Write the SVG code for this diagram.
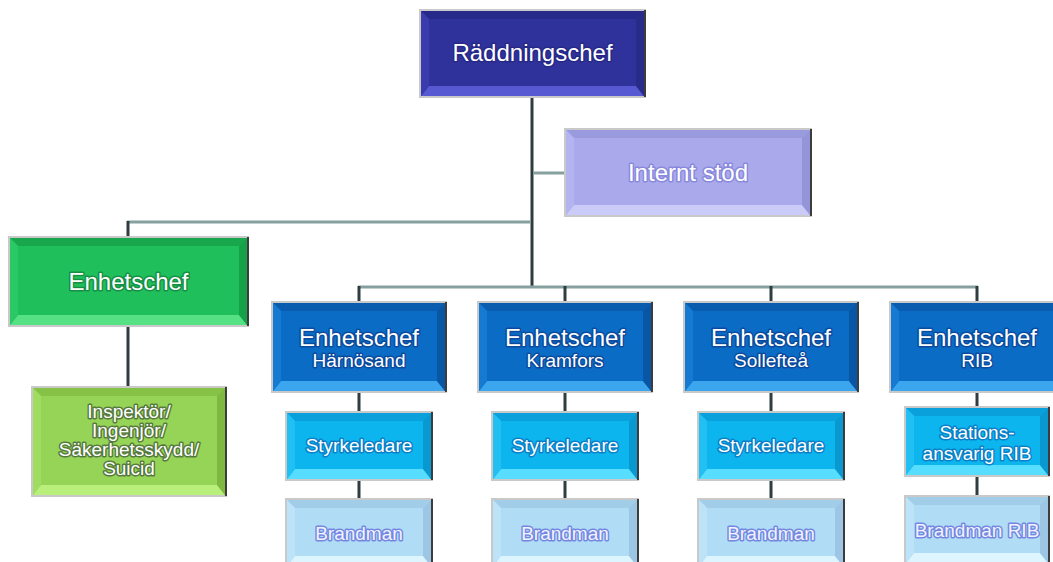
<svg xmlns="http://www.w3.org/2000/svg" width="1053" height="562" viewBox="0 0 1053 562">
<style>
.frame{fill:none;stroke:#c9c9c9;stroke-width:2}
.edge{stroke:#3c3c3c;stroke-width:2}
.v{stroke:#2f3d40;stroke-width:3;fill:none}
.h{stroke:#86a0a0;stroke-width:3;fill:none}
text{font-family:"Liberation Sans",Arial,sans-serif;text-anchor:middle;fill:#ffffff;paint-order:stroke;stroke-linejoin:round;stroke-width:3}
.t24{font-size:24px}
.t19{font-size:19px}
.rad .f{fill:#30329b}.rad .t{fill:#27298a}.rad .b{fill:#5659d2}.rad .l{fill:#3a3cae}.rad .r{fill:#292b88}.rad text{stroke:#20227a;stroke-opacity:.6}
.int .f{fill:#a9a9ec}.int .t{fill:#9a9adf}.int .b{fill:#cbcbfa}.int .l{fill:#b4b4f1}.int .r{fill:#9494d8}.int text{stroke:#8080d8;stroke-opacity:.8}
.grn .f{fill:#1fbf5c}.grn .t{fill:#18a74d}.grn .b{fill:#55e184}.grn .l{fill:#2bc966}.grn .r{fill:#16a04a}.grn text{stroke:#127a3a;stroke-opacity:.7}
.lim .f{fill:#95d456}.lim .t{fill:#85c246}.lim .b{fill:#b9f07c}.lim .l{fill:#a0dc62}.lim .r{fill:#7eb840}.lim text{stroke:#4c6a3a;stroke-opacity:.85}
.blu .f{fill:#0b6cc6}.blu .t{fill:#0a5cae}.blu .b{fill:#3ba6ee}.blu .l{fill:#167ad2}.blu .r{fill:#0956a4}.blu text{stroke:#0a3c8c;stroke-opacity:.7}
.cya .f{fill:#0cb5ed}.cya .t{fill:#0aa0db}.cya .b{fill:#56ddff}.cya .l{fill:#22c0f2}.cya .r{fill:#0998d0}.cya text{stroke:#0a6ab8;stroke-opacity:.7}
.pal .f{fill:#b1dcf5}.pal .t{fill:#a2cde9}.pal .b{fill:#dcf5ff}.pal .l{fill:#bde3f8}.pal .r{fill:#9cc6e4}.pal text{fill:#f2f2ff;stroke:#6a7ddf;stroke-opacity:.9}
</style>

<g id="connectors">
<line class="v" x1="532" y1="96" x2="532" y2="288"/>
<line class="h" x1="533" y1="173" x2="566" y2="173"/>
<line class="h" x1="127" y1="222" x2="531" y2="222"/>
<line class="v" x1="128" y1="221" x2="128" y2="238"/>
<line class="v" x1="128" y1="325" x2="128" y2="388"/>
<line class="h" x1="358" y1="287" x2="978" y2="287"/>
<line class="v" x1="359" y1="286" x2="359" y2="303"/>
<line class="v" x1="565" y1="286" x2="565" y2="303"/>
<line class="v" x1="771" y1="286" x2="771" y2="303"/>
<line class="v" x1="977" y1="286" x2="977" y2="303"/>
<line class="v" x1="359" y1="391" x2="359" y2="413"/>
<line class="v" x1="359" y1="479" x2="359" y2="500"/>
<line class="v" x1="565" y1="391" x2="565" y2="413"/>
<line class="v" x1="565" y1="479" x2="565" y2="500"/>
<line class="v" x1="771" y1="391" x2="771" y2="413"/>
<line class="v" x1="771" y1="479" x2="771" y2="500"/>
<line class="v" x1="977" y1="391" x2="977" y2="408"/>
<line class="v" x1="977" y1="475" x2="977" y2="497"/>
</g>

<g id="raddningschef" class="rad">
<rect class="f" x="421" y="11" width="223" height="85"/>
<polygon class="t" points="421,11 644,11 636,19 429,19"/>
<polygon class="b" points="421,96 644,96 636,86 429,86"/>
<polygon class="l" points="421,11 429,19 429,86 421,96"/>
<polygon class="r" points="644,11 636,19 636,86 644,96"/>
<rect class="frame" x="420" y="10" width="225" height="87"/>
<line class="edge" x1="645" y1="10" x2="645" y2="97"/>
<text class="t24" x="532.5" y="61">Räddningschef</text>
</g>

<g id="internt-stod" class="int">
<rect class="f" x="566" y="130" width="244" height="85"/>
<polygon class="t" points="566,130 810,130 802,138 574,138"/>
<polygon class="b" points="566,215 810,215 802,205 574,205"/>
<polygon class="l" points="566,130 574,138 574,205 566,215"/>
<polygon class="r" points="810,130 802,138 802,205 810,215"/>
<rect class="frame" x="565" y="129" width="246" height="87"/>
<line class="edge" x1="811" y1="129" x2="811" y2="216"/>
<text class="t24" x="688" y="181">Internt stöd</text>
</g>

<g id="enhetschef" class="grn">
<rect class="f" x="10" y="238" width="237" height="87"/>
<polygon class="t" points="10,238 247,238 239,246 18,246"/>
<polygon class="b" points="10,325 247,325 239,315 18,315"/>
<polygon class="l" points="10,238 18,246 18,315 10,325"/>
<polygon class="r" points="247,238 239,246 239,315 247,325"/>
<rect class="frame" x="9" y="237" width="239" height="89"/>
<line class="edge" x1="248" y1="237" x2="248" y2="326"/>
<text class="t24" x="128.5" y="290">Enhetschef</text>
</g>

<g id="inspektor" class="lim">
<rect class="f" x="33" y="388" width="192" height="107"/>
<polygon class="t" points="33,388 225,388 217,396 41,396"/>
<polygon class="b" points="33,495 225,495 217,485 41,485"/>
<polygon class="l" points="33,388 41,396 41,485 33,495"/>
<polygon class="r" points="225,388 217,396 217,485 225,495"/>
<rect class="frame" x="32" y="387" width="194" height="109"/>
<line class="edge" x1="226" y1="387" x2="226" y2="496"/>
<text class="t19" x="129" y="418">Inspektör/</text>
<text class="t19" x="129" y="437">Ingenjör/</text>
<text class="t19" x="129" y="456">Säkerhetsskydd/</text>
<text class="t19" x="129" y="475">Suicid</text>
</g>

<g id="enhetschef-harnosand" class="blu">
<rect class="f" x="273" y="303" width="172" height="88"/>
<polygon class="t" points="273,303 445,303 437,311 281,311"/>
<polygon class="b" points="273,391 445,391 437,381 281,381"/>
<polygon class="l" points="273,303 281,311 281,381 273,391"/>
<polygon class="r" points="445,303 437,311 437,381 445,391"/>
<rect class="frame" x="272" y="302" width="174" height="90"/>
<line class="edge" x1="446" y1="302" x2="446" y2="392"/>
<text class="t24" x="359" y="346">Enhetschef</text>
<text class="t19" x="359" y="367">Härnösand</text>
</g>

<g id="enhetschef-kramfors" class="blu">
<rect class="f" x="479" y="303" width="172" height="88"/>
<polygon class="t" points="479,303 651,303 643,311 487,311"/>
<polygon class="b" points="479,391 651,391 643,381 487,381"/>
<polygon class="l" points="479,303 487,311 487,381 479,391"/>
<polygon class="r" points="651,303 643,311 643,381 651,391"/>
<rect class="frame" x="478" y="302" width="174" height="90"/>
<line class="edge" x1="652" y1="302" x2="652" y2="392"/>
<text class="t24" x="565" y="346">Enhetschef</text>
<text class="t19" x="565" y="367">Kramfors</text>
</g>

<g id="enhetschef-solleftea" class="blu">
<rect class="f" x="685" y="303" width="172" height="88"/>
<polygon class="t" points="685,303 857,303 849,311 693,311"/>
<polygon class="b" points="685,391 857,391 849,381 693,381"/>
<polygon class="l" points="685,303 693,311 693,381 685,391"/>
<polygon class="r" points="857,303 849,311 849,381 857,391"/>
<rect class="frame" x="684" y="302" width="174" height="90"/>
<line class="edge" x1="858" y1="302" x2="858" y2="392"/>
<text class="t24" x="771" y="346">Enhetschef</text>
<text class="t19" x="771" y="367">Sollefteå</text>
</g>

<g id="enhetschef-rib" class="blu">
<rect class="f" x="891" y="303" width="172" height="88"/>
<polygon class="t" points="891,303 1063,303 1055,311 899,311"/>
<polygon class="b" points="891,391 1063,391 1055,381 899,381"/>
<polygon class="l" points="891,303 899,311 899,381 891,391"/>
<polygon class="r" points="1063,303 1055,311 1055,381 1063,391"/>
<rect class="frame" x="890" y="302" width="174" height="90"/>
<text class="t24" x="977" y="346">Enhetschef</text>
<text class="t19" x="977" y="367">RIB</text>
</g>

<g id="styrkeledare-harnosand" class="cya">
<rect class="f" x="287" y="413" width="144" height="66"/>
<polygon class="t" points="287,413 431,413 423,421 295,421"/>
<polygon class="b" points="287,479 431,479 423,469 295,469"/>
<polygon class="l" points="287,413 295,421 295,469 287,479"/>
<polygon class="r" points="431,413 423,421 423,469 431,479"/>
<rect class="frame" x="286" y="412" width="146" height="68"/>
<line class="edge" x1="432" y1="412" x2="432" y2="480"/>
<text class="t19" x="359" y="452">Styrkeledare</text>
</g>

<g id="styrkeledare-kramfors" class="cya">
<rect class="f" x="493" y="413" width="144" height="66"/>
<polygon class="t" points="493,413 637,413 629,421 501,421"/>
<polygon class="b" points="493,479 637,479 629,469 501,469"/>
<polygon class="l" points="493,413 501,421 501,469 493,479"/>
<polygon class="r" points="637,413 629,421 629,469 637,479"/>
<rect class="frame" x="492" y="412" width="146" height="68"/>
<line class="edge" x1="638" y1="412" x2="638" y2="480"/>
<text class="t19" x="565" y="452">Styrkeledare</text>
</g>

<g id="styrkeledare-solleftea" class="cya">
<rect class="f" x="699" y="413" width="144" height="66"/>
<polygon class="t" points="699,413 843,413 835,421 707,421"/>
<polygon class="b" points="699,479 843,479 835,469 707,469"/>
<polygon class="l" points="699,413 707,421 707,469 699,479"/>
<polygon class="r" points="843,413 835,421 835,469 843,479"/>
<rect class="frame" x="698" y="412" width="146" height="68"/>
<line class="edge" x1="844" y1="412" x2="844" y2="480"/>
<text class="t19" x="771" y="452">Styrkeledare</text>
</g>

<g id="stationsansvarig-rib" class="cya">
<rect class="f" x="906" y="408" width="142" height="67"/>
<polygon class="t" points="906,408 1048,408 1040,416 914,416"/>
<polygon class="b" points="906,475 1048,475 1040,465 914,465"/>
<polygon class="l" points="906,408 914,416 914,465 906,475"/>
<polygon class="r" points="1048,408 1040,416 1040,465 1048,475"/>
<rect class="frame" x="905" y="407" width="144" height="69"/>
<line class="edge" x1="1049" y1="407" x2="1049" y2="476"/>
<text class="t19" x="977" y="439">Stations-</text>
<text class="t19" x="977" y="460">ansvarig RIB</text>
</g>

<g id="brandman-harnosand" class="pal">
<rect class="f" x="287" y="500" width="144" height="66"/>
<polygon class="t" points="287,500 431,500 423,508 295,508"/>
<polygon class="b" points="287,566 431,566 423,556 295,556"/>
<polygon class="l" points="287,500 295,508 295,556 287,566"/>
<polygon class="r" points="431,500 423,508 423,556 431,566"/>
<rect class="frame" x="286" y="499" width="146" height="68"/>
<line class="edge" x1="432" y1="499" x2="432" y2="567"/>
<text class="t19" x="359" y="540">Brandman</text>
</g>

<g id="brandman-kramfors" class="pal">
<rect class="f" x="493" y="500" width="144" height="66"/>
<polygon class="t" points="493,500 637,500 629,508 501,508"/>
<polygon class="b" points="493,566 637,566 629,556 501,556"/>
<polygon class="l" points="493,500 501,508 501,556 493,566"/>
<polygon class="r" points="637,500 629,508 629,556 637,566"/>
<rect class="frame" x="492" y="499" width="146" height="68"/>
<line class="edge" x1="638" y1="499" x2="638" y2="567"/>
<text class="t19" x="565" y="540">Brandman</text>
</g>

<g id="brandman-solleftea" class="pal">
<rect class="f" x="699" y="500" width="144" height="66"/>
<polygon class="t" points="699,500 843,500 835,508 707,508"/>
<polygon class="b" points="699,566 843,566 835,556 707,556"/>
<polygon class="l" points="699,500 707,508 707,556 699,566"/>
<polygon class="r" points="843,500 835,508 835,556 843,566"/>
<rect class="frame" x="698" y="499" width="146" height="68"/>
<line class="edge" x1="844" y1="499" x2="844" y2="567"/>
<text class="t19" x="771" y="540">Brandman</text>
</g>

<g id="brandman-rib" class="pal">
<rect class="f" x="906" y="497" width="142" height="66"/>
<polygon class="t" points="906,497 1048,497 1040,505 914,505"/>
<polygon class="b" points="906,563 1048,563 1040,553 914,553"/>
<polygon class="l" points="906,497 914,505 914,553 906,563"/>
<polygon class="r" points="1048,497 1040,505 1040,553 1048,563"/>
<rect class="frame" x="905" y="496" width="144" height="68"/>
<line class="edge" x1="1049" y1="496" x2="1049" y2="564"/>
<text class="t19" x="977" y="537">Brandman RIB</text>
</g>
</svg>
